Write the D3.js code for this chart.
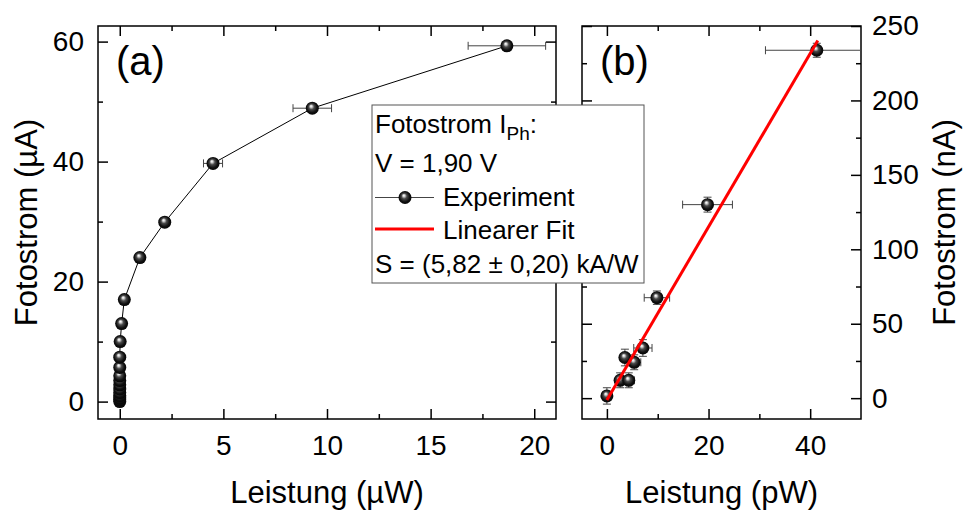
<!DOCTYPE html>
<html>
<head>
<meta charset="utf-8">
<script src="https://cdn.jsdelivr.net/npm/d3@7"></script>
<style>
  body { margin: 0; background: #fff; }
  svg { display: block; }
  text { font-family: "Liberation Sans", Arial, sans-serif; fill: #000; }
</style>
</head>
<body>
<svg id="chart" width="963" height="510"></svg>
<script>
// Panel (a): photocurrent in µA against optical power in µW
const powerA = [0.0, 0.0, 0.0, 0.0, 0.0, 0.0, 0.0, 0.0, 0.0, 0.0, 0.0, 0.02, 0.09, 0.22, 0.97, 2.17, 4.5, 9.29, 18.68];
const currentA = [0.0, 0.3, 0.6, 1.0, 1.5, 2.1, 2.8, 3.5, 4.3, 5.7, 7.4, 10.0, 13.0, 17.0, 24.0, 29.9, 39.7, 48.9, 59.3];
const powerErrA = [0, 0, 0, 0, 0, 0, 0, 0, 0, 0, 0, 0, 0.01, 0.02, 0.1, 0.22, 0.46, 0.93, 1.87];

// Panel (b): photocurrent in nA against optical power in pW
const powerB = [0.0, 2.6, 4.3, 3.54, 5.37, 7.08, 9.84, 19.8, 41.3];
const currentB = [1.5, 12.0, 12.0, 27.3, 24.1, 33.7, 67.5, 130.0, 233.7];
const powerErrB = [0.0, 0.6, 1.1, 0.9, 1.3, 1.8, 2.5, 4.9, 10.1];
const currentErrB = [5.5, 5.0, 5.0, 5.6, 5.0, 5.6, 4.5, 5.0, 4.7];

// Linear fit in panel (b): slope S in nA/pW (= kA/W)
const fitSlope = 5.82;
const fitIntercept = -1.3;
const fitRange = [0, 41.5];

// Axis ticks
const ticksAX = [0, 5, 10, 15, 20];
const minorAX = [2.5, 7.5, 12.5, 17.5];
const ticksAY = [0, 20, 40, 60];
const minorAY = [10, 30, 50];
const ticksBX = [0, 20, 40];
const minorBX = [10, 30];
const ticksBY = [0, 50, 100, 150, 200, 250];
const minorBY = [25, 75, 125, 175, 225];

// Legend lines
const legendTitle = "Fotostrom I";
const legendSub = "Ph";
const legendVoltage = "V = 1,90 V";
const legendExp = "Experiment";
const legendFit = "Linearer Fit";
const legendSlope = "S = (5,82 \u00B1 0,20) kA/W";

const svg = d3.select("#chart");

// Ball marker gradient
const defs = svg.append("defs");
const grad = defs.append("radialGradient").attr("id", "ball")
  .attr("cx", "50%").attr("cy", "50%").attr("r", "55%")
  .attr("fx", "40%").attr("fy", "33%");
[["0%", "#ffffff"], ["14%", "#d8d8d8"], ["38%", "#4a4a4a"], ["70%", "#111"], ["100%", "#000"]]
  .forEach(([o, c]) => grad.append("stop").attr("offset", o).attr("stop-color", c));

const panelA = { x0: 98, x1: 556, y0: 26, y1: 419 };
const panelB = { x0: 582, x1: 861, y0: 26, y1: 419 };

const xA = d3.scaleLinear([-1.05, 21.05], [panelA.x0, panelA.x1]);
const yA = d3.scaleLinear([-2.9, 62.6], [panelA.y1, panelA.y0]);
const xB = d3.scaleLinear([-4.9, 50], [panelB.x0, panelB.x1]);
const yB = d3.scaleLinear([-14, 250], [panelB.y1, panelB.y0]);

defs.append("clipPath").attr("id", "clipB").append("rect")
  .attr("x", panelB.x0).attr("y", panelB.y0)
  .attr("width", panelB.x1 - panelB.x0).attr("height", panelB.y1 - panelB.y0);

const FS_TICK = 28;

function drawAxes(p, x, y, tx, mx, ty, my, labelLeft) {
  const g = svg.append("g");
  const add = (axis, tf, transform, size, pad) => {
    const a = g.append("g").attr("transform", transform)
      .call(axis.tickSize(size).tickPadding(pad).tickFormat(tf));
    a.select(".domain").remove();
    a.selectAll(".tick line").attr("stroke", "#000").attr("stroke-width", 1.5);
    a.selectAll("text").style("font-size", FS_TICK + "px")
      .style("font-family", '"Liberation Sans", Arial, sans-serif').attr("fill", "#000");
    return a;
  };
  const fmt = d3.format("d");
  const none = () => "";
  // bottom
  add(d3.axisBottom(x).tickValues(tx), fmt, `translate(0,${p.y1})`, -10, 16);
  add(d3.axisBottom(x).tickValues(mx), none, `translate(0,${p.y1})`, -5, 0);
  // top
  add(d3.axisTop(x).tickValues(tx), none, `translate(0,${p.y0})`, -10, 0);
  add(d3.axisTop(x).tickValues(mx), none, `translate(0,${p.y0})`, -5, 0);
  // left
  add(d3.axisLeft(y).tickValues(ty), labelLeft ? fmt : none, `translate(${p.x0},0)`, -10, 14);
  add(d3.axisLeft(y).tickValues(my), none, `translate(${p.x0},0)`, -5, 0);
  // right
  add(d3.axisRight(y).tickValues(ty), labelLeft ? none : fmt, `translate(${p.x1},0)`, -10, 11);
  add(d3.axisRight(y).tickValues(my), none, `translate(${p.x1},0)`, -5, 0);
  // frame
  g.append("rect").attr("x", p.x0).attr("y", p.y0)
    .attr("width", p.x1 - p.x0).attr("height", p.y1 - p.y0)
    .attr("fill", "none").attr("stroke", "#000").attr("stroke-width", 1.5);
}

function errorBars(g, xs, ys, xe, ye, x, y) {
  const eb = g.append("g").attr("stroke", "#444").attr("stroke-width", 1).attr("fill", "none");
  const cap = 4;
  xs.forEach((v, i) => {
    if (xe && xe[i] > 0) {
      const xl = x(v - xe[i]), xr = x(v + xe[i]), yy = y(ys[i]);
      eb.append("line").attr("x1", xl).attr("x2", xr).attr("y1", yy).attr("y2", yy);
      eb.append("line").attr("x1", xl).attr("x2", xl).attr("y1", yy - cap).attr("y2", yy + cap);
      eb.append("line").attr("x1", xr).attr("x2", xr).attr("y1", yy - cap).attr("y2", yy + cap);
    }
    if (ye && ye[i] > 0) {
      const yt = y(ys[i] + ye[i]), yb = y(ys[i] - ye[i]), xx = x(v);
      eb.append("line").attr("x1", xx).attr("x2", xx).attr("y1", yt).attr("y2", yb);
      eb.append("line").attr("x1", xx - cap).attr("x2", xx + cap).attr("y1", yt).attr("y2", yt);
      eb.append("line").attr("x1", xx - cap).attr("x2", xx + cap).attr("y1", yb).attr("y2", yb);
    }
  });
}

function balls(g, xs, ys, x, y) {
  g.append("g").selectAll("circle").data(xs).join("circle")
    .attr("cx", (d) => x(d)).attr("cy", (d, i) => y(ys[i])).attr("r", 6.5)
    .attr("fill", "url(#ball)");
}

// ---- Panel (a) ----
drawAxes(panelA, xA, yA, ticksAX, minorAX, ticksAY, minorAY, true);
const gA = svg.append("g");
gA.append("path")
  .attr("d", d3.line().x((d) => xA(d)).y((d, i) => yA(currentA[i]))(powerA))
  .attr("fill", "none").attr("stroke", "#000").attr("stroke-width", 1);
errorBars(gA, powerA, currentA, powerErrA, null, xA, yA);
balls(gA, powerA, currentA, xA, yA);

// ---- Panel (b) ----
drawAxes(panelB, xB, yB, ticksBX, minorBX, ticksBY, minorBY, false);
const gB = svg.append("g").attr("clip-path", "url(#clipB)");
errorBars(gB, powerB, currentB, powerErrB, currentErrB, xB, yB);
balls(gB, powerB, currentB, xB, yB);
gB.append("line")
  .attr("x1", xB(fitRange[0])).attr("y1", yB(fitIntercept + fitSlope * fitRange[0]))
  .attr("x2", xB(fitRange[1])).attr("y2", yB(fitIntercept + fitSlope * fitRange[1]))
  .attr("stroke", "#ff0000").attr("stroke-width", 3);

// Panel letters
svg.append("text").attr("x", 116).attr("y", 75).style("font-size", "40px").text("(a)");
svg.append("text").attr("x", 600).attr("y", 75).style("font-size", "40px").text("(b)");

// Axis titles
const FS_TITLE = 31;
svg.append("text").attr("x", (panelA.x0 + panelA.x1) / 2).attr("y", 503)
  .attr("text-anchor", "middle").style("font-size", FS_TITLE + "px").text("Leistung (\u00B5W)");
svg.append("text").attr("x", (panelB.x0 + panelB.x1) / 2).attr("y", 503)
  .attr("text-anchor", "middle").style("font-size", FS_TITLE + "px").text("Leistung (pW)");
svg.append("text").attr("transform", `translate(37,${(panelA.y0 + panelA.y1) / 2}) rotate(-90)`)
  .attr("text-anchor", "middle").style("font-size", FS_TITLE + "px").text("Fotostrom (\u00B5A)");
svg.append("text").attr("transform", `translate(955,${(panelB.y0 + panelB.y1) / 2}) rotate(-90)`)
  .attr("text-anchor", "middle").style("font-size", FS_TITLE + "px").text("Fotostrom (nA)");

// Legend
const FS_LEG = 26;
const lg = svg.append("g");
lg.append("rect").attr("x", 372).attr("y", 105).attr("width", 272).attr("height", 178)
  .attr("fill", "#fff").attr("stroke", "#555").attr("stroke-width", 1);
const t1 = lg.append("text").attr("x", 375).attr("y", 133).style("font-size", FS_LEG + "px");
t1.append("tspan").text(legendTitle);
t1.append("tspan").attr("dy", 7).style("font-size", "19px").text(legendSub);
t1.append("tspan").attr("dy", -7).text(":");
lg.append("text").attr("x", 375).attr("y", 172).style("font-size", FS_LEG + "px").text(legendVoltage);
lg.append("line").attr("x1", 375).attr("x2", 434).attr("y1", 197.5).attr("y2", 197.5)
  .attr("stroke", "#444").attr("stroke-width", 1);
lg.append("circle").attr("cx", 405).attr("cy", 197.5).attr("r", 6.5).attr("fill", "url(#ball)");
lg.append("text").attr("x", 443).attr("y", 206).style("font-size", FS_LEG + "px").text(legendExp);
lg.append("line").attr("x1", 375).attr("x2", 434).attr("y1", 229).attr("y2", 229)
  .attr("stroke", "#ff0000").attr("stroke-width", 3);
lg.append("text").attr("x", 443).attr("y", 239).style("font-size", FS_LEG + "px").text(legendFit);
lg.append("text").attr("x", 375).attr("y", 273).style("font-size", FS_LEG + "px").text(legendSlope);
</script>
</body>
</html>
